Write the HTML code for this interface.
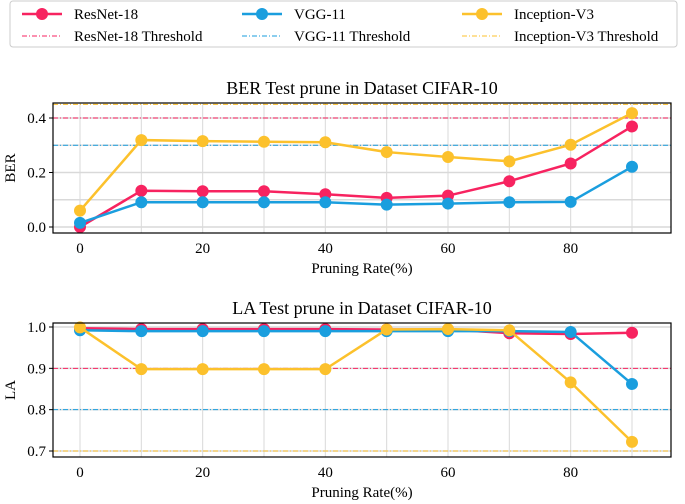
<!DOCTYPE html>
<html><head><meta charset="utf-8"><style>
body{margin:0;background:#fff;}
svg{display:block;font-family:"Liberation Serif",serif;}
</style></head><body>
<svg id="c" width="685" height="504"></svg>
<script>
const xs=[0,10,20,30,40,50,60,70,80,90];
const berResNet=[0.0,0.133,0.131,0.131,0.12,0.107,0.115,0.168,0.233,0.369];
const berVGG=[0.015,0.091,0.091,0.091,0.091,0.082,0.086,0.091,0.092,0.221];
const berIncep=[0.06,0.319,0.315,0.313,0.311,0.275,0.257,0.241,0.302,0.418];
const berThresh=[0.4,0.3,0.45];
const laResNet=[0.997,0.995,0.995,0.995,0.995,0.994,0.994,0.985,0.983,0.986];
const laVGG=[0.992,0.99,0.99,0.99,0.99,0.99,0.99,0.99,0.988,0.862];
const laIncep=[0.999,0.898,0.898,0.898,0.898,0.994,0.995,0.992,0.866,0.722];
const laThresh=[0.9,0.8,0.7];
const berTicks=[0.0,0.2,0.4];
const laTicks=[0.7,0.8,0.9,1.0];
const xTicks=[0,20,40,60,80];
const names=["ResNet-18","VGG-11","Inception-V3"];
const colors=["#f72360","#1a9ede","#fcc12c"];
const NS="http://www.w3.org/2000/svg";
const svg=document.getElementById('c');
function el(t,a,p){const e=document.createElementNS(NS,t);for(const k in a)e.setAttribute(k,a[k]);(p||svg).appendChild(e);return e;}
function panel(o){
  const g=el('g',{});
  
  
  const X=v=>80+(v-0)*(632-80)/90;
  const Y=v=>o.y0+(v-o.v0)*(o.y1-o.y0)/(o.v1-o.v0);
  // grid
  for(const v of xs){const l=el('line',{x1:X(v),x2:X(v),y1:o.top,y2:o.bot,stroke:'#d9d9d9','stroke-width':1},g);}
  for(const v of o.grid){const l=el('line',{x1:53,x2:671,y1:Y(v),y2:Y(v),stroke:'#d9d9d9','stroke-width':1.5},g);}
  // thresholds
  o.th.forEach((v,i)=>{const l=el('line',{x1:53,x2:671,y1:Y(v),y2:Y(v),stroke:colors[i],'stroke-width':1,'stroke-dasharray':'5,2,1,2'},g);});
  // series
  o.series.forEach((s,i)=>{
    const p=el('polyline',{points:s.map((v,j)=>X(xs[j])+','+Y(v)).join(' '),fill:'none',stroke:colors[i],'stroke-width':2.5},g);
    
    
    s.forEach((v,j)=>{const c=el('circle',{cx:X(xs[j]),cy:Y(v),r:6,fill:colors[i]},g);});
  });
  const r=el('rect',{x:53,y:o.top,width:618,height:o.bot-o.top,fill:'none',stroke:'#000','stroke-width':1.2},g);
  
  for(const v of o.ticks){
    el('line',{x1:49,x2:53,y1:Y(v),y2:Y(v),stroke:'#000'},g);
    const t=el('text',{x:46,y:Y(v)+5,'text-anchor':'end','font-size':15},g);t.textContent=v.toFixed(1);
    
  }
  for(const v of xTicks){
    el('line',{x1:X(v),x2:X(v),y1:o.bot,y2:o.bot+4},g);
    const t=el('text',{x:X(v),y:o.bot+20,'text-anchor':'middle','font-size':15},g);t.textContent=v;
    
  }
  const xt=el('text',{x:362,y:o.bot+40,'text-anchor':'middle','font-size':15},g);xt.textContent='Pruning Rate(%)';
  
  const yt=el('text',{x:0,y:0,'text-anchor':'middle','font-size':15,transform:`translate(15,${(o.top+o.bot)/2}) rotate(-90)`},g);yt.textContent=o.ylabel;
  
  const tt=el('text',{x:362,y:o.top-9,'text-anchor':'middle','font-size':18},g);tt.textContent=o.title;
  
}
panel({name:'ber-panel',top:103,bot:233,v0:0,y0:227,v1:0.4,y1:118,grid:[0,0.1,0.2,0.3,0.4],ticks:berTicks,th:berThresh,series:[berResNet,berVGG,berIncep],ylabel:'BER',title:'BER Test prune in Dataset CIFAR-10'});
panel({name:'la-panel',top:323,bot:457,v0:0.7,y0:451,v1:1.0,y1:327,grid:[0.7,0.8,0.9,1.0],ticks:laTicks,th:laThresh,series:[laResNet,laVGG,laIncep],ylabel:'LA',title:'LA Test prune in Dataset CIFAR-10'});
// legend
const lg=el('g',{});


el('rect',{x:10,y:1,width:667,height:46,fill:'#fff',stroke:'#ccc',rx:3},lg);
const lx=[22,242,462];
names.forEach((n,i)=>{
  const e1=el('g',{},lg);
  
  
  el('line',{x1:lx[i],x2:lx[i]+40,y1:14,y2:14,stroke:colors[i],'stroke-width':2.5},e1);
  el('circle',{cx:lx[i]+20,cy:14,r:6,fill:colors[i]},e1);
  const t=el('text',{x:lx[i]+52,y:19,'font-size':15},e1);t.textContent=n;
  const e2=el('g',{},lg);
  
  
  el('line',{x1:lx[i],x2:lx[i]+40,y1:36,y2:36,stroke:colors[i],'stroke-width':1,'stroke-dasharray':'5,2,1,2'},e2);
  const t2=el('text',{x:lx[i]+52,y:41,'font-size':15},e2);t2.textContent=n+' Threshold';
});
</script>
</body></html>
